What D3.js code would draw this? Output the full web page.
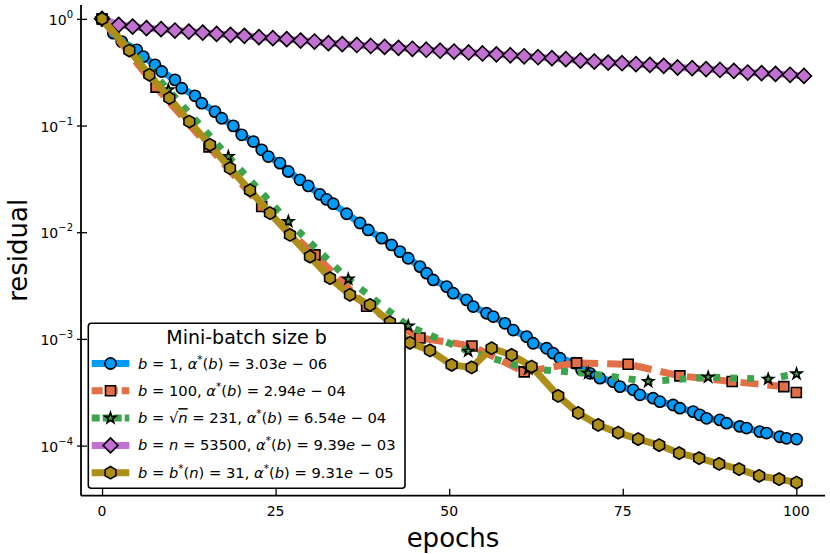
<!DOCTYPE html>
<html>
<head>
<meta charset="utf-8">
<script src="https://cdn.jsdelivr.net/npm/d3@7"></script>
<style>
  body { margin: 0; background: #fff; }
  svg text { font-family: "DejaVu Sans", sans-serif; }
</style>
</head>
<body>
<div id="chart"></div>
<script>
// plot box (pixels of the 830x554 page)
var W = 830, H = 554,
    plotLeft = 81, plotRight = 825, plotTop = 5, plotBottom = 495.7;

// ---- data ----
var blueEpochs = [0, 1.63, 2.84, 5.00, 5.95, 7.63, 8.60, 10.51, 11.48, 13.39, 14.36, 16.27, 17.24, 18.91, 20.12,
  21.79, 23.00, 23.95, 25.63, 26.82, 28.51, 29.70, 31.39, 32.35, 33.30, 35.23, 37.15, 38.34, 40.27, 41.71,
  42.91, 44.10, 45.79, 46.75, 47.70, 49.63, 50.58, 52.51, 53.46, 55.39, 56.34, 58.03, 59.22, 61.15, 62.10,
  64.03, 64.98, 65.95, 68.11, 69.07, 70.27, 71.71, 73.62, 74.59, 76.50, 77.47, 79.38, 80.35, 82.26, 83.23,
  85.14, 86.11, 87.07, 88.98, 89.95, 91.86, 92.83, 94.74, 95.71, 97.62, 98.59, 100.03];
var blueValues = [1, 0.734, 0.612, 0.512, 0.443, 0.371, 0.321, 0.268, 0.224, 0.190, 0.162, 0.135, 0.117, 0.0993, 0.0818,
  0.0708, 0.0592, 0.0512, 0.0444, 0.0371, 0.0310, 0.0272, 0.0226, 0.0203, 0.0185, 0.0149, 0.0122, 0.0105, 0.00879, 0.00760,
  0.00658, 0.00570, 0.00476, 0.00413, 0.00357, 0.00309, 0.00268, 0.00232, 0.00201, 0.00174, 0.00162, 0.00140, 0.00121, 0.00105, 0.000910,
  0.000817, 0.000734, 0.000659, 0.000592, 0.000512, 0.000476, 0.000428, 0.000397, 0.000357, 0.000333, 0.000299, 0.000278, 0.000258, 0.000240, 0.000224,
  0.000208, 0.000194, 0.000180, 0.000174, 0.000162, 0.000151, 0.000146, 0.000135, 0.000131, 0.000121, 0.000117, 0.000115];

var orangeEpochs = [0, 7.78, 15.41, 23.0, 30.67, 38.11, 45.79, 53.28, 60.81, 68.35, 75.78, 83.23, 90.76, 98.2, 100.0];
var orangeValues = [1, 0.229, 0.0631, 0.0174, 0.00613, 0.00202, 0.00102, 0.000859, 0.000491, 0.000596, 0.000579,
  0.000450, 0.000398, 0.000357, 0.000314];

var greenEpochs = [0, 9.55, 18.19, 26.83, 35.46, 44.10, 52.74, 61.38, 70.02, 78.66, 87.30, 95.94, 100.03];
var greenValues = [1, 0.216, 0.0512, 0.0126, 0.00363, 0.00132, 0.000767, 0.000524, 0.000476, 0.000398, 0.000438,
  0.000419, 0.000470];

var purpleEpochs = [0, 2.4, 4.4, 6.4, 8.5, 10.5, 12.5, 14.5, 16.5, 18.5, 20.5, 22.6, 24.6, 26.6, 28.6, 30.6, 32.6,
  34.6, 36.7, 38.7, 40.7, 42.7, 44.7, 46.7, 48.7, 50.7, 52.8, 54.8, 56.8, 58.8, 60.8, 62.8, 64.8, 66.8, 68.9,
  70.9, 72.9, 74.9, 76.9, 78.9, 80.9, 82.9, 85.0, 87.0, 89.0, 91.0, 93.0, 95.0, 97.0, 99.1, 101.1];
var purpleValues = [1, 0.879, 0.847, 0.818, 0.801, 0.777, 0.760, 0.744, 0.723, 0.708, 0.693, 0.674, 0.659, 0.645, 0.626,
  0.613, 0.592, 0.580, 0.569, 0.557, 0.546, 0.535, 0.524, 0.514, 0.503, 0.494, 0.484, 0.474, 0.465, 0.456,
  0.446, 0.437, 0.428, 0.419, 0.406, 0.398, 0.389, 0.384, 0.376, 0.370, 0.363, 0.350, 0.345, 0.338, 0.332,
  0.325, 0.314, 0.310, 0.305, 0.299, 0.292];

var goldEpochs = [0, 3.93, 6.81, 9.69, 12.57, 15.55, 18.43, 21.31, 24.19, 27.07, 29.95, 32.83, 35.71, 38.59, 41.47,
  44.35, 47.23, 50.35, 53.23, 56.11, 58.99, 61.87, 65.70, 68.58, 71.46, 74.34, 77.22, 80.25, 83.12, 86.00,
  88.88, 91.76, 94.64, 97.52, 100.03];
var goldValues = [1, 0.505, 0.299, 0.181, 0.109, 0.0659, 0.0398, 0.0247, 0.0151, 0.00944, 0.00591, 0.00371, 0.00259, 0.00208, 0.00143,
  0.000918, 0.000780, 0.000571, 0.000540, 0.000818, 0.000708, 0.000550, 0.000292, 0.000202, 0.000156, 0.000132, 0.000115, 0.000101, 0.0000849, 0.0000762,
  0.0000673, 0.0000601, 0.0000520, 0.0000484, 0.0000450];

var xTicks = [0, 25, 50, 75, 100];
var yTicks = [1, 1e-1, 1e-2, 1e-3, 1e-4];
var yTickExp = ["0", "\u22121", "\u22122", "\u22123", "\u22124"];

var colors = ["#009af9", "#e26f46", "#3da44d", "#c271d2", "#ac8e18"];
var markers = ["circle", "square", "star", "diamond", "hexagon"];
var dashes = [null, "18,9", "7,10", null, null];

// legend labels: [text, style]  i = italic, r = roman, s = superscript, o = overlined italic
var legendTitle = "Mini-batch size b";
var legendLabels = [
  [["b","i"],[" = 1, ","r"],["\u03b1","i"],["*","s"],["(","r"],["b","i"],[") = 3.03","r"],["e","i"],[" \u2212 06","r"]],
  [["b","i"],[" = 100, ","r"],["\u03b1","i"],["*","s"],["(","r"],["b","i"],[") = 2.94","r"],["e","i"],[" \u2212 04","r"]],
  [["b","i"],[" = \u221a","r"],["n","o"],[" = 231, ","r"],["\u03b1","i"],["*","s"],["(","r"],["b","i"],[") = 6.54","r"],["e","i"],[" \u2212 04","r"]],
  [["b","i"],[" = ","r"],["n","i"],[" = 53500, ","r"],["\u03b1","i"],["*","s"],["(","r"],["b","i"],[") = 9.39","r"],["e","i"],[" \u2212 03","r"]],
  [["b","i"],[" = ","r"],["b","i"],["*","s"],["(","r"],["n","i"],[") = 31, ","r"],["\u03b1","i"],["*","s"],["(","r"],["b","i"],[") = 9.31","r"],["e","i"],[" \u2212 05","r"]]
];

var series = [
  {epochs: blueEpochs, values: blueValues},
  {epochs: orangeEpochs, values: orangeValues},
  {epochs: greenEpochs, values: greenValues},
  {epochs: purpleEpochs, values: purpleValues},
  {epochs: goldEpochs, values: goldValues}
];

var svg = d3.select("#chart").append("svg")
    .attr("width", W)
    .attr("height", H);

// Julia-like limits: data range widened by 3% each side
var x = d3.scaleLinear()
    .domain([-3.03, 104.13])
    .range([plotLeft, plotRight]);
var y = d3.scaleLog()
    .domain([Math.pow(10, -4.47), Math.pow(10, 0.13)])
    .range([plotBottom, plotTop]);

// ---- axes ----
var xAxis = svg.append("g")
    .attr("transform", "translate(0," + plotBottom + ")")
    .call(d3.axisBottom(x).tickValues(xTicks).tickSizeInner(-7).tickSizeOuter(0).tickFormat(""));
xAxis.select(".domain").attr("d", "M" + plotLeft + ",0H" + plotRight);

var yAxis = svg.append("g")
    .attr("transform", "translate(" + plotLeft + ",0)")
    .call(d3.axisLeft(y).tickValues(yTicks).tickSizeInner(-6).tickSizeOuter(0).tickFormat(""));
yAxis.select(".domain").attr("d", "M0," + plotTop + "V" + plotBottom);
// little outer stub of each y tick
yAxis.selectAll(".tick").append("line").attr("x1", -4).attr("x2", 0).attr("stroke", "#000");

svg.selectAll(".domain").attr("stroke", "#000").attr("stroke-width", 1.8);
svg.selectAll(".tick line").attr("stroke", "#000").attr("stroke-width", 1.3);

svg.append("g").selectAll("text")
    .data(xTicks).enter().append("text")
    .attr("x", function(d) { return x(d); })
    .attr("y", 516)
    .attr("text-anchor", "middle")
    .style("font-size", "14px")
    .text(function(d) { return d; });

var yLab = svg.append("g").selectAll("text")
    .data(yTicks).enter().append("text")
    .attr("x", 73)
    .attr("y", function(d) { return y(d) + 6; })
    .attr("text-anchor", "end")
    .style("font-size", "14px");
yLab.append("tspan").text("10");
yLab.append("tspan")
    .attr("dy", -7)
    .style("font-size", "10px")
    .text(function(d, i) { return yTickExp[i]; });

svg.append("text")
    .attr("x", (plotLeft + plotRight) / 2)
    .attr("y", 547)
    .attr("text-anchor", "middle")
    .style("font-size", "26px")
    .text("epochs");

svg.append("text")
    .attr("transform", "translate(27," + ((plotTop + plotBottom) / 2) + ") rotate(-90)")
    .attr("text-anchor", "middle")
    .style("font-size", "26px")
    .text("residual");

// ---- markers ----
function markerPath(type) {
  if (type === "star") return d3.symbol(d3.symbolStar, 36)();
  if (type === "diamond") return "M0,-7.5L7.5,0L0,7.5L-7.5,0Z";
  if (type === "square") return "M-5,-5H5V5H-5Z";
  if (type === "hexagon") {
    var pts = d3.range(6).map(function(k) {
      var a = (-90 + 60 * k) * Math.PI / 180;
      return [6.2 * Math.cos(a), 6.2 * Math.sin(a)];
    });
    return "M" + pts.join("L") + "Z";
  }
  return d3.symbol(d3.symbolCircle, Math.PI * 5.6 * 5.6)();
}

function drawMarkers(g, pts, i) {
  g.selectAll("path.m")
    .data(pts).enter().append("path")
    .attr("class", "m")
    .attr("d", markerPath(markers[i]))
    .attr("transform", function(d) { return "translate(" + d[0] + "," + d[1] + ")"; })
    .attr("fill", colors[i])
    .attr("stroke", "#000")
    .attr("stroke-width", 1.6)
    .attr("stroke-linejoin", "miter");
}

var line = d3.line()
    .x(function(d) { return d[0]; })
    .y(function(d) { return d[1]; });

// ---- series, in plotting order (gold ends up on top) ----
series.forEach(function(s, i) {
  var pts = s.epochs.map(function(e, k) { return [x(e), y(s.values[k])]; });
  var g = svg.append("g");
  g.append("path")
    .attr("d", line(pts))
    .attr("fill", "none")
    .attr("stroke", colors[i])
    .attr("stroke-width", 7)
    .attr("stroke-linejoin", "round")
    .attr("stroke-dasharray", dashes[i]);
  drawMarkers(g, pts, i);
});

// ---- legend ----
var lg = svg.append("g");
lg.append("rect")
    .attr("x", 88.3).attr("y", 323.3)
    .attr("width", 316.7).attr("height", 165)
    .attr("rx", 3)
    .attr("fill", "#fff")
    .attr("stroke", "#000")
    .attr("stroke-width", 1.6);

lg.append("text")
    .attr("x", 246.5).attr("y", 344)
    .attr("text-anchor", "middle")
    .style("font-size", "19px")
    .text(legendTitle);

legendLabels.forEach(function(parts, i) {
  var cy = 363.5 + 27.3 * i;
  lg.append("path")
    .attr("d", "M91.7," + cy + "H129.3")
    .attr("stroke", colors[i])
    .attr("stroke-width", 7)
    .attr("stroke-dasharray", dashes[i] ? (i === 1 ? "11,4" : "8,3") : null);
  drawMarkers(lg.append("g"), [[110.5, cy]], i);

  var t = lg.append("text")
      .attr("x", 138).attr("y", cy + 5)
      .style("font-size", "14.7px")
      .style("white-space", "pre");
  var raised = false;
  parts.forEach(function(p) {
    var sp = t.append("tspan").text(p[0]);
    if (p[1] === "s") {
      sp.attr("dy", -6).style("font-size", "10.5px");
      raised = true;
    } else {
      if (raised) { sp.attr("dy", 6); raised = false; }
      if (p[1] === "i" || p[1] === "o") sp.style("font-style", "italic");
      if (p[1] === "o") sp.style("text-decoration", "overline");
    }
  });
});
</script>
</body>
</html>
